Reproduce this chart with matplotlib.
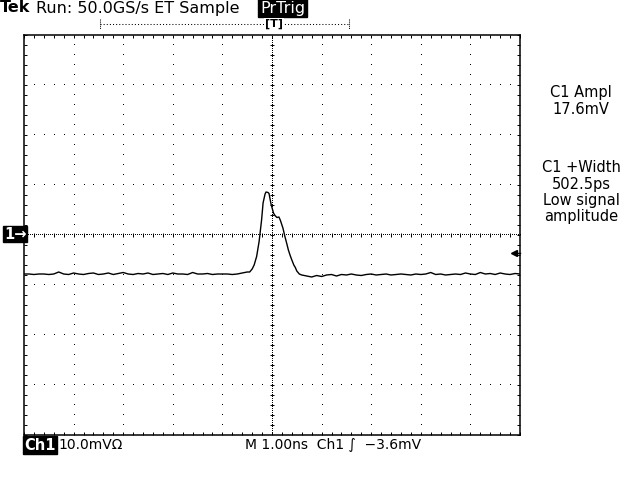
import numpy as np
import matplotlib
matplotlib.use("Agg")
import matplotlib.pyplot as plt
from matplotlib.lines import Line2D

# --- waveform (Ch1, mV) ---
sample_step_ns = 0.1

# flat baseline before the pulse, starting at -5.0 ns
baseline_left_mv = [
    -7.8, -7.8, -7.9, -7.8, -7.8, -7.9, -7.8, -7.4, -7.8, -7.9,
    -7.6, -7.8, -7.9, -7.7, -7.6, -7.9, -7.8, -7.6, -7.9, -7.7,
    -7.5, -7.8, -7.9, -7.7, -7.8, -7.6, -7.9, -7.8, -7.7, -7.9,
    -7.6, -7.8, -7.8, -7.9, -7.5, -7.8, -7.8, -7.7, -7.9, -7.8,
    -7.8, -7.8, -7.9, -7.8, -7.6, -7.4,
]
baseline_left_start_ns = -5.0

# the pulse itself
pulse_t_ns = [-0.45, -0.40, -0.36, -0.31, -0.26, -0.21, -0.18, -0.14, -0.12,
              -0.08, -0.06, -0.02, 0.03, 0.06, 0.10, 0.14, 0.17, 0.22, 0.26,
              0.30, 0.33, 0.37, 0.40, 0.44, 0.47, 0.50, 0.55]
pulse_mv = [-7.4, -6.8, -6.0, -4.3, -1.3, 3.0, 6.4, 8.2, 8.6,
            8.5, 8.3, 6.2, 4.4, 3.9, 3.5, 3.6, 2.9, 1.4, -0.3,
            -1.8, -3.0, -4.2, -5.0, -6.0, -6.5, -7.2, -7.8]

# baseline after the pulse, starting at 0.6 ns
baseline_right_mv = [
    -8.0, -8.2, -8.4, -8.1, -8.3, -8.0, -7.9, -8.2, -7.9, -8.0,
    -7.8, -8.0, -8.1, -7.9, -7.8, -8.0, -7.9, -7.8, -8.0, -7.9,
    -7.8, -7.9, -8.0, -7.8, -7.9, -7.8, -7.5, -7.9, -7.8, -8.0,
    -7.9, -7.8, -7.9, -7.6, -7.8, -7.9, -7.5, -7.8, -7.7, -7.9,
    -7.6, -7.8, -7.9, -7.7, -7.8,
]
baseline_right_start_ns = 0.6

trigger_level_mv = -3.6
header_text = "Run: 50.0GS/s ET Sample"
meas_lines = ["C1 Ampl", "17.6mV"]
width_lines = ["C1 +Width", "502.5ps", "Low signal", "amplitude"]
scale_text = "10.0mV\u03a9"
timebase_text = "M 1.00ns  Ch1 \u222b  \u22123.6mV"

t_left = baseline_left_start_ns + sample_step_ns * np.arange(len(baseline_left_mv))
t_right = baseline_right_start_ns + sample_step_ns * np.arange(len(baseline_right_mv))
t = np.concatenate([t_left, pulse_t_ns, t_right])
v = np.concatenate([baseline_left_mv, pulse_mv, baseline_right_mv])

W, H = 640, 480
fig = plt.figure(figsize=(6.4, 4.8), dpi=100, facecolor="white")


def fx(px):
    return px / W


def fy(py):
    return 1 - py / H


ax = fig.add_axes([fx(24), fy(435), 496 / W, 400 / H])
ax.set_xlim(-5, 5)
ax.set_ylim(-40, 40)
for s in ax.spines.values():
    s.set_linewidth(1.1)

# frame ticks
ax.set_xticks(np.arange(-5, 5.01, 0.2))
ax.set_yticks(np.arange(-40, 40.1, 2))
ax.tick_params(direction="in", length=2.5, width=0.7, top=True, right=True,
               labelbottom=False, labelleft=False)

# graticule dots
for gx in [-4, -3, -2, -1, 1, 2, 3, 4]:
    ys = np.arange(-38, 38.1, 2)
    ax.plot(np.full_like(ys, gx), ys, ",", color="k")
for gy in [-30, -20, -10, 10, 20, 30]:
    xs = np.arange(-4.8, 4.81, 0.2)
    ax.plot(xs, np.full_like(xs, gy), ",", color="k")

# center cross: fine dots plus ticks
xs = np.arange(-5, 5.001, 0.04)
ax.plot(xs, np.zeros_like(xs), ",", color="k")
xs = np.arange(-4.8, 4.81, 0.2)
ax.plot(xs, np.zeros_like(xs), "|", color="k", markersize=3.5, markeredgewidth=0.7)
ys = np.arange(-40, 40.001, 0.4)
ax.plot(np.zeros_like(ys), ys, ",", color="k")
ys = np.arange(-38, 38.1, 2)
ax.plot(np.zeros_like(ys), ys, "_", color="k", markersize=3.5, markeredgewidth=0.7)

# trace
ax.plot(t, v, color="k", linewidth=1.0)

# trigger level marker on right edge
ax.plot([4.87, 5.0], [trigger_level_mv, trigger_level_mv], color="k", lw=1.0, clip_on=False)
ax.plot([4.88], [trigger_level_mv], marker="<", color="k", markersize=5, clip_on=False)

# header
hfs = 11.5
fs = 10.5
fig.text(fx(0), fy(8), "Tek", fontsize=hfs, fontweight="bold", va="center", ha="left")
fig.text(fx(36), fy(8), header_text, fontsize=hfs, va="center", ha="left")
fig.text(fx(260), fy(8), "PrTrig", fontsize=hfs, va="center", ha="left", color="white",
         bbox=dict(boxstyle="square,pad=0.1", facecolor="black", edgecolor="black"))

# trigger position bar
fig.add_artist(Line2D([fx(100), fx(349)], [fy(24), fy(24)], color="k", lw=0.75,
                      linestyle=(0, (1, 2))))
for px in (100, 349):
    fig.add_artist(Line2D([fx(px), fx(px)], [fy(19), fy(29)], color="k", lw=0.75,
                          linestyle=(0, (1, 1))))
fig.text(fx(274), fy(24), "[T]", fontsize=8, fontweight="bold", ha="center", va="center",
         bbox=dict(boxstyle="square,pad=0.05", facecolor="white", edgecolor="none"))

# measurement readouts
for i, line in enumerate(meas_lines):
    fig.text(fx(581), fy(93 + 16 * i), line, fontsize=fs, ha="center", va="center")
for i, line in enumerate(width_lines):
    fig.text(fx(581), fy(168 + 16 * i), line, fontsize=fs, ha="center", va="center")

# channel marker
fig.text(fx(4), fy(234), "1\u2192", fontsize=fs, fontweight="bold", color="white",
         ha="left", va="center",
         bbox=dict(boxstyle="square,pad=0.05", facecolor="black", edgecolor="black"))

# footer
fig.text(fx(24), fy(445), "Ch1", fontsize=fs, fontweight="bold", color="white",
         ha="left", va="center",
         bbox=dict(boxstyle="square,pad=0.08", facecolor="black", edgecolor="black"))
fig.text(fx(58), fy(445), scale_text, fontsize=10, ha="left", va="center")
fig.text(fx(245), fy(445), timebase_text, fontsize=10, ha="left", va="center")

fig.savefig("out.png", dpi=100, facecolor="white")
